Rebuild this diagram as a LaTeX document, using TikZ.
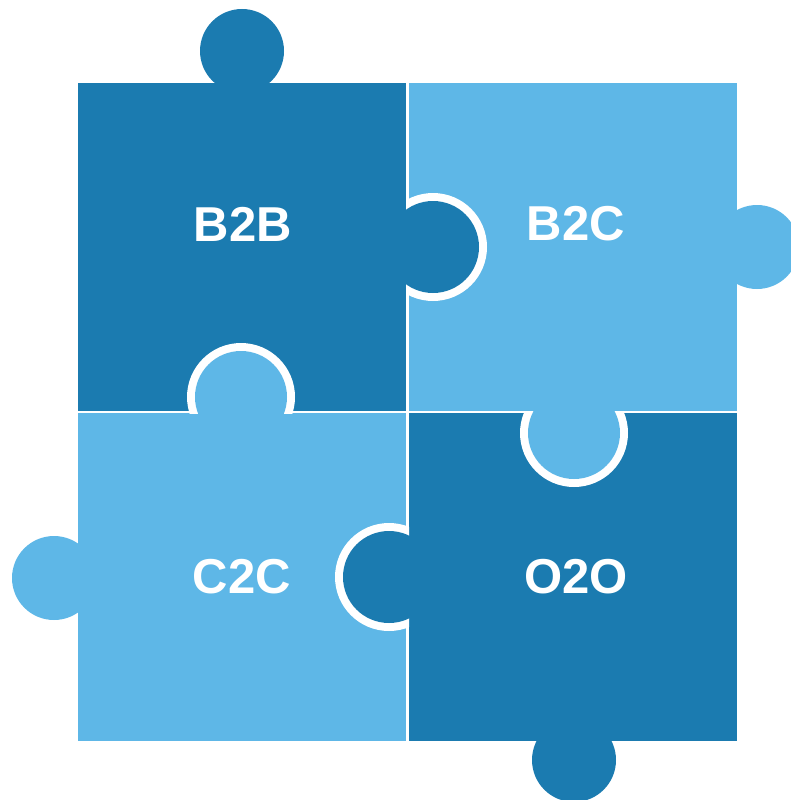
\documentclass[tikz,border=0pt]{standalone}
\usepackage{fontspec}
\setmainfont{Liberation Sans}
\definecolor{darkb}{RGB}{27,123,176}
\definecolor{lightb}{RGB}{94,183,231}
\begin{document}
\begin{tikzpicture}[x=1pt,y=-1pt,
  lbl/.style={text=white,font=\fontsize{49}{58}\selectfont\bfseries,inner sep=0pt,anchor=center}]
\useasboundingbox (0,0) rectangle (791,800);
% squares
\fill[darkb]  (78,83) rectangle (406,411);
\fill[lightb] (409,83) rectangle (737,411);
\fill[lightb] (78,413) rectangle (406,741);
\fill[darkb]  (409,413) rectangle (737,741);
% outer knobs
\fill[darkb]  (242,51) circle[radius=42];
\fill[lightb] (757,247) circle[radius=42];
\fill[lightb] (54,578) circle[radius=42];
\fill[darkb]  (574,760) circle[radius=42];
% inner knob B2B -> B2C
\begin{scope}\clip (406,0) rectangle (791,800);
  \fill[white] (433,247) circle[radius=54];\end{scope}
\fill[darkb] (433,247) circle[radius=46];
% inner knob C2C -> B2B
\begin{scope}\clip (0,0) rectangle (791,413);
  \fill[white] (241,397) circle[radius=54];\end{scope}
\fill[lightb] (241,397) circle[radius=46];
% inner knob B2C -> O2O
\begin{scope}\clip (0,411) rectangle (791,800);
  \fill[white] (574,433) circle[radius=54];\end{scope}
\fill[lightb] (574,433) circle[radius=46];
% inner knob O2O -> C2C
\begin{scope}\clip (0,0) rectangle (409,800);
  \fill[white] (389,577) circle[radius=54];\end{scope}
\fill[darkb] (389,577) circle[radius=46];
% labels
\node[lbl] (b2b) at (243,224) {B2B};
\node[lbl] (b2c) at (576,224) {B2C};
\node[lbl] (c2c) at (242,577) {C2C};
\node[lbl] (o2o) at (576,577) {O2O};
\end{tikzpicture}
\end{document}
